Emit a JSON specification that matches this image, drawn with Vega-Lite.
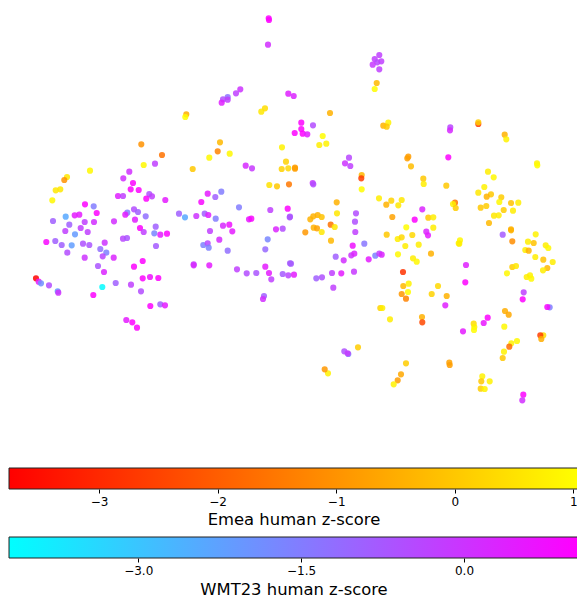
{"$schema":"https://vega.github.io/schema/vega-lite/v6.json","padding":{"left":8,"top":0,"right":0,"bottom":0},"background":"white","config":{"view":{"stroke":null},"font":"DejaVu Sans"},"bounds":"flush","spacing":48,
"datasets":{
"wmt23":[{"x":267.7,"y":18.3,"z":1},{"x":268,"y":20,"z":1},{"x":267,"y":44.7,"z":0.1},{"x":239.3,"y":89.3,"z":0},{"x":235,"y":93.3,"z":-0.25},{"x":226.7,"y":97,"z":-1.3},{"x":222,"y":99.3,"z":-0.6},{"x":226.7,"y":99.7,"z":-0.25},{"x":220.7,"y":102.7,"z":0.4},{"x":287.3,"y":93.7,"z":0.4},{"x":292.7,"y":96,"z":0.3},{"x":154,"y":163.7,"z":-0.25},{"x":128.3,"y":171.7,"z":0.1},{"x":122.3,"y":178.3,"z":0.1},{"x":132,"y":183,"z":1},{"x":129.7,"y":189.3,"z":1},{"x":137.7,"y":190,"z":1},{"x":117,"y":196,"z":0.4},{"x":122,"y":196,"z":-0.25},{"x":148.3,"y":194,"z":-0.6},{"x":151,"y":196.3,"z":-0.25},{"x":145.3,"y":198.7,"z":1},{"x":164.3,"y":200,"z":0.5},{"x":84,"y":204.3,"z":1},{"x":92.7,"y":206.3,"z":-1.5},{"x":95.7,"y":213,"z":1},{"x":78.3,"y":214.7,"z":0.5},{"x":73.7,"y":215.3,"z":0.5},{"x":64.7,"y":216.7,"z":-2.4},{"x":52,"y":221,"z":-0.9},{"x":68.3,"y":224.7,"z":-0.9},{"x":83.7,"y":222,"z":-0.25},{"x":93,"y":222,"z":0.1},{"x":79.7,"y":228,"z":-0.25},{"x":64.3,"y":231,"z":-0.25},{"x":113,"y":221.3,"z":0.1},{"x":126.3,"y":212.7,"z":-1.5},{"x":124.3,"y":214.7,"z":0.5},{"x":133,"y":209.3,"z":-0.5},{"x":137,"y":212,"z":-0.9},{"x":144.7,"y":216.3,"z":-1.2},{"x":134,"y":219.7,"z":0.4},{"x":139,"y":228,"z":1},{"x":154.7,"y":226.7,"z":-0.9},{"x":178,"y":213.7,"z":-0.9},{"x":184,"y":217.3,"z":-2.4},{"x":195.3,"y":216,"z":0},{"x":203.7,"y":213.7,"z":-0.9},{"x":207.3,"y":215,"z":0.4},{"x":214.7,"y":218.7,"z":-1.5},{"x":222,"y":225.7,"z":0.2},{"x":228.3,"y":224.7,"z":0.7},{"x":231.3,"y":231.3,"z":0.5},{"x":209,"y":231,"z":-0.25},{"x":200.3,"y":202,"z":0.9},{"x":206.7,"y":193.7,"z":0.5},{"x":214.3,"y":197,"z":-0.9},{"x":220.3,"y":191.7,"z":-1.5},{"x":238,"y":207.3,"z":-1.5},{"x":244.7,"y":165.7,"z":0.2},{"x":251,"y":168.3,"z":-0.1},{"x":269.3,"y":210,"z":-0.25},{"x":286.7,"y":208.7,"z":1},{"x":288.7,"y":217.3,"z":-0.6},{"x":248,"y":219.3,"z":0.5},{"x":250.3,"y":218.7,"z":0.9},{"x":275,"y":229.3,"z":0.3},{"x":281.7,"y":228.7,"z":-0.5},{"x":74,"y":234.3,"z":-2.1},{"x":86.7,"y":232,"z":-0.25},{"x":45.3,"y":242,"z":0.9},{"x":54.3,"y":241,"z":-0.9},{"x":60.7,"y":245,"z":-0.9},{"x":70.7,"y":245.3,"z":-2.2},{"x":82,"y":243.7,"z":-0.6},{"x":88.3,"y":245,"z":-0.7},{"x":66.3,"y":252.7,"z":-0.5},{"x":83.7,"y":257.7,"z":0},{"x":103.7,"y":242.7,"z":0},{"x":99.3,"y":249,"z":-1.2},{"x":105.3,"y":252.7,"z":-1.6},{"x":101.7,"y":256.3,"z":-0.4},{"x":112.7,"y":257.7,"z":0.3},{"x":97,"y":266,"z":-0.7},{"x":103,"y":272,"z":0.3},{"x":122,"y":238.7,"z":-0.4},{"x":126,"y":238,"z":-0.7},{"x":142.7,"y":232,"z":-0.25},{"x":153.3,"y":233.3,"z":-1.7},{"x":159.3,"y":234.7,"z":0.5},{"x":166,"y":233.7,"z":1},{"x":155,"y":246,"z":-0.8},{"x":133,"y":266.7,"z":1},{"x":141.7,"y":261,"z":1},{"x":37.7,"y":281.7,"z":0.5},{"x":40,"y":283.3,"z":-1.9},{"x":48,"y":285.3,"z":-0.5},{"x":56.7,"y":291.3,"z":-2.3},{"x":57.3,"y":292.7,"z":0.1},{"x":101.3,"y":287,"z":-4.1},{"x":92.3,"y":295,"z":1},{"x":114.7,"y":283,"z":-0.9},{"x":130,"y":284.7,"z":-0.25},{"x":141.7,"y":278.3,"z":1},{"x":149,"y":277,"z":0.7},{"x":157.3,"y":278,"z":1},{"x":140,"y":291.3,"z":-0.5},{"x":149.3,"y":306,"z":1},{"x":159.3,"y":304.3,"z":-0.9},{"x":164,"y":305.3,"z":0.5},{"x":125.3,"y":320,"z":0.5},{"x":131.3,"y":322.3,"z":1},{"x":136,"y":327.7,"z":1},{"x":202.3,"y":245,"z":-1.6},{"x":206.7,"y":243.3,"z":-0.4},{"x":207.7,"y":247.7,"z":-1.6},{"x":218.3,"y":239.7,"z":0.2},{"x":226.7,"y":250.7,"z":-1.2},{"x":192.7,"y":264.3,"z":-0.1},{"x":192.7,"y":265.3,"z":0.2},{"x":208.3,"y":265.3,"z":0.5},{"x":236,"y":269.3,"z":-0.25},{"x":245.7,"y":273.3,"z":-0.5},{"x":255.3,"y":273,"z":-0.7},{"x":264.3,"y":266.7,"z":0.5},{"x":268,"y":273,"z":0.5},{"x":270.3,"y":279.3,"z":-0.25},{"x":281.7,"y":274,"z":-0.8},{"x":287.3,"y":275.3,"z":-0.4},{"x":289,"y":263.3,"z":-0.8},{"x":266.7,"y":239.3,"z":-1.7},{"x":264.3,"y":249.3,"z":-1.1},{"x":263,"y":296,"z":-0.9},{"x":262,"y":299,"z":0.1},{"x":378.3,"y":55,"z":-0.25},{"x":373.7,"y":59,"z":-0.25},{"x":376.3,"y":62.3,"z":-0.4},{"x":380.3,"y":61.3,"z":-0.25},{"x":371.7,"y":64.7,"z":-0.1},{"x":378.3,"y":69.3,"z":-0.25},{"x":449.3,"y":127.3,"z":-0.4},{"x":449,"y":130.3,"z":0.2},{"x":300.3,"y":122.7,"z":1},{"x":300.3,"y":129,"z":1},{"x":293.7,"y":133,"z":1},{"x":301.7,"y":133.7,"z":1},{"x":306.3,"y":134.3,"z":0.4},{"x":312,"y":125.3,"z":-0.5},{"x":348,"y":157.7,"z":-0.4},{"x":344,"y":163.3,"z":0},{"x":349.3,"y":166,"z":-0.25},{"x":447.3,"y":157.3,"z":1},{"x":311.7,"y":183,"z":-0.1},{"x":312.3,"y":184.3,"z":-0.5},{"x":355,"y":213.3,"z":-0.5},{"x":354,"y":221.7,"z":-0.6},{"x":421.3,"y":209.3,"z":0.3},{"x":413.7,"y":219.7,"z":1},{"x":425.3,"y":231.7,"z":0.3},{"x":289,"y":216.7,"z":-0.7},{"x":354.3,"y":232,"z":-0.25},{"x":351.7,"y":245.7,"z":0.7},{"x":363.3,"y":243.7,"z":-1.4},{"x":334.7,"y":256.7,"z":-0.9},{"x":342.7,"y":260.3,"z":0.1},{"x":350.3,"y":255.3,"z":0},{"x":353.3,"y":253.7,"z":0.3},{"x":367.7,"y":259.3,"z":0.5},{"x":374.3,"y":255.7,"z":-1.6},{"x":378.3,"y":253.7,"z":-0.25},{"x":380.7,"y":254.7,"z":0.3},{"x":427,"y":235.3,"z":0.5},{"x":501.7,"y":234.7,"z":-0.8},{"x":465,"y":265,"z":0.4},{"x":464.3,"y":282.3,"z":1},{"x":522.7,"y":292.3,"z":-0.25},{"x":521.7,"y":299.3,"z":1},{"x":548.7,"y":307.3,"z":-1.6},{"x":546.3,"y":307,"z":0.9},{"x":444.3,"y":305.3,"z":0.4},{"x":486.7,"y":317.7,"z":1},{"x":482.7,"y":323,"z":0.6},{"x":462,"y":331.3,"z":0.5},{"x":290,"y":263.7,"z":-0.8},{"x":293,"y":274.7,"z":0.5},{"x":315.3,"y":278.3,"z":-0.9},{"x":321,"y":277.3,"z":-0.6},{"x":331,"y":273,"z":-0.25},{"x":340.3,"y":273.3,"z":0.5},{"x":353,"y":271.7,"z":-0.1},{"x":332.3,"y":287.7,"z":-0.25},{"x":347.3,"y":354,"z":-1.6},{"x":343.3,"y":351.3,"z":-0.6},{"x":346.7,"y":353.3,"z":-0.1},{"x":522.3,"y":394.7,"z":1},{"x":521.3,"y":400.3,"z":0.1}],
"emea":[{"x":185.3,"y":114.3,"z":-0.5},{"x":184.3,"y":117,"z":1},{"x":264,"y":108.3,"z":0.4},{"x":260.3,"y":111.7,"z":0.6},{"x":219,"y":142.3,"z":-0.3},{"x":216.7,"y":151.3,"z":-1.3},{"x":208.3,"y":157.7,"z":0.9},{"x":228.7,"y":153.7,"z":0.9},{"x":140.3,"y":144.3,"z":-1},{"x":161,"y":155,"z":-1.6},{"x":142.7,"y":165,"z":0.9},{"x":89,"y":170.7,"z":0.9},{"x":66,"y":177,"z":0.6},{"x":63.3,"y":180,"z":-1},{"x":59.3,"y":189.3,"z":0.6},{"x":54.7,"y":190.3,"z":0.6},{"x":51.3,"y":200.3,"z":0.9},{"x":191.7,"y":169,"z":0},{"x":281,"y":147.3,"z":0.8},{"x":285,"y":161.7,"z":0.2},{"x":280.7,"y":169,"z":0.2},{"x":287.3,"y":168.3,"z":0.3},{"x":268.3,"y":185,"z":0.5},{"x":276,"y":186.3,"z":0},{"x":288,"y":184.3,"z":-1.5},{"x":35,"y":278.3,"z":-3.7},{"x":375.7,"y":83,"z":-0.3},{"x":373.7,"y":89,"z":1},{"x":329,"y":113,"z":-0.4},{"x":387.3,"y":122.7,"z":0.8},{"x":382.3,"y":125.7,"z":-0.4},{"x":385.7,"y":126.7,"z":0},{"x":477.3,"y":124,"z":-2.7},{"x":477.3,"y":122.3,"z":0.1},{"x":503.7,"y":134.7,"z":-0.4},{"x":505.3,"y":139.3,"z":0.8},{"x":321.7,"y":136,"z":1},{"x":318.3,"y":145,"z":0.7},{"x":325.3,"y":143.7,"z":0.8},{"x":294,"y":167.7,"z":-0.8},{"x":294,"y":168.7,"z":-0.8},{"x":407.3,"y":156.7,"z":-0.8},{"x":406.3,"y":158.3,"z":-0.8},{"x":410,"y":166.3,"z":-0.2},{"x":536,"y":163.3,"z":0.8},{"x":536.3,"y":165.3,"z":1},{"x":360.7,"y":175,"z":-0.3},{"x":360.3,"y":178.3,"z":-2.6},{"x":360.7,"y":189.3,"z":1},{"x":422.3,"y":178.7,"z":0},{"x":422.7,"y":184,"z":0.7},{"x":445.3,"y":185.7,"z":0},{"x":487,"y":171.7,"z":0.7},{"x":492.7,"y":177.3,"z":0.9},{"x":483.3,"y":187,"z":0.8},{"x":477.3,"y":192.7,"z":0.6},{"x":490,"y":194.3,"z":0},{"x":485.7,"y":196.7,"z":-0.4},{"x":500.3,"y":197.3,"z":0.1},{"x":498.3,"y":202,"z":0.9},{"x":510,"y":203,"z":-0.1},{"x":517.3,"y":202.7,"z":0.7},{"x":485.3,"y":206,"z":0.1},{"x":479.7,"y":207.7,"z":0},{"x":502.7,"y":210,"z":0.1},{"x":512,"y":210.7,"z":0.7},{"x":493,"y":215.7,"z":0.6},{"x":497.7,"y":215.3,"z":0.7},{"x":488,"y":223,"z":-0.3},{"x":510,"y":229.3,"z":-0.4},{"x":454,"y":202.7,"z":-1.5},{"x":452,"y":204,"z":0.8},{"x":454.7,"y":208,"z":0.1},{"x":378,"y":198.3,"z":0.7},{"x":390.3,"y":200.7,"z":0.2},{"x":385.3,"y":204.7,"z":-0.4},{"x":400.7,"y":200,"z":0.6},{"x":397.3,"y":205.3,"z":0.6},{"x":335.7,"y":202.3,"z":-0.4},{"x":336,"y":213.3,"z":0.6},{"x":391.3,"y":217,"z":-0.7},{"x":427.3,"y":217.7,"z":0},{"x":432.3,"y":217.3,"z":0.7},{"x":405.3,"y":227.3,"z":1},{"x":432.3,"y":227.7,"z":0.7},{"x":309.3,"y":219.3,"z":-0.4},{"x":312.3,"y":216.3,"z":-0.4},{"x":316.7,"y":215,"z":-0.4},{"x":320.7,"y":217,"z":-0.1},{"x":329.7,"y":224.7,"z":-1.6},{"x":333.7,"y":227,"z":0.6},{"x":312.7,"y":227.7,"z":-0.4},{"x":316,"y":228.3,"z":-0.7},{"x":304.3,"y":232.3,"z":-0.9},{"x":320.7,"y":232,"z":0.6},{"x":330,"y":240.7,"z":-0.3},{"x":385.7,"y":234.7,"z":0},{"x":396.7,"y":239,"z":0.7},{"x":400.7,"y":237.3,"z":0.3},{"x":411.3,"y":235,"z":0.3},{"x":404.3,"y":246,"z":0.7},{"x":417.7,"y":244.7,"z":0.7},{"x":397,"y":254.3,"z":0.9},{"x":412,"y":258.3,"z":0.7},{"x":415.7,"y":261.7,"z":0.9},{"x":430,"y":253.7,"z":-0.4},{"x":459,"y":240.3,"z":0.9},{"x":457.7,"y":243.3,"z":0.9},{"x":458.3,"y":243.7,"z":0.7},{"x":510,"y":230.3,"z":-0.4},{"x":511.3,"y":241.3,"z":-1.1},{"x":534.7,"y":234.3,"z":0.8},{"x":527,"y":241.7,"z":0.7},{"x":532.7,"y":243,"z":-0.1},{"x":544.7,"y":245.3,"z":0.7},{"x":547.3,"y":248,"z":0.9},{"x":524.3,"y":250,"z":0.7},{"x":527.7,"y":250.7,"z":-0.4},{"x":534.3,"y":257,"z":0.7},{"x":542.3,"y":259.7,"z":-0.1},{"x":551.7,"y":262,"z":0.7},{"x":511.3,"y":267,"z":0.1},{"x":515,"y":266,"z":0.6},{"x":546.3,"y":268,"z":-0.3},{"x":542,"y":270.3,"z":0.7},{"x":506,"y":273.3,"z":0.9},{"x":529,"y":275.3,"z":0.8},{"x":525.7,"y":277,"z":0.7},{"x":530.3,"y":278.7,"z":0.9},{"x":402,"y":272,"z":-2.8},{"x":402.3,"y":286,"z":-0.3},{"x":407.7,"y":283.7,"z":0.8},{"x":407,"y":292,"z":1},{"x":400.7,"y":294,"z":-0.9},{"x":405,"y":298.7,"z":-1.3},{"x":437,"y":286,"z":0.3},{"x":430.7,"y":294,"z":0.2},{"x":445.7,"y":296,"z":-0.4},{"x":379.3,"y":308,"z":0.2},{"x":381.3,"y":308,"z":0.7},{"x":389,"y":319.3,"z":0.7},{"x":421,"y":317,"z":-0.4},{"x":421.3,"y":322.3,"z":-2.4},{"x":504,"y":311,"z":-0.5},{"x":507.7,"y":314.7,"z":-0.6},{"x":503.3,"y":326.7,"z":0.9},{"x":472.7,"y":323.7,"z":0.4},{"x":473.3,"y":327,"z":0.8},{"x":473,"y":330,"z":1},{"x":542.3,"y":335.3,"z":0.4},{"x":539.3,"y":335.3,"z":-2.6},{"x":540.3,"y":339,"z":-0.5},{"x":516,"y":341,"z":0.9},{"x":510.3,"y":343.3,"z":0.8},{"x":508.3,"y":346.7,"z":-1.7},{"x":503,"y":351.7,"z":0.8},{"x":501.7,"y":358,"z":0},{"x":357,"y":347.3,"z":0.1},{"x":405,"y":363.3,"z":0.1},{"x":400,"y":374.3,"z":-0.6},{"x":396.7,"y":380.3,"z":-0.8},{"x":392.7,"y":384.3,"z":0.8},{"x":327,"y":373.3,"z":0.8},{"x":323.7,"y":369.3,"z":-0.9},{"x":448.3,"y":362.7,"z":-0.7},{"x":448.7,"y":365,"z":-0.8},{"x":481.3,"y":376.3,"z":0.8},{"x":480.3,"y":381.3,"z":0},{"x":488.7,"y":381.3,"z":0.8},{"x":479.7,"y":388.7,"z":0.1},{"x":483.7,"y":389,"z":0.8}]
},
"vconcat":[
{"width":569,"height":420,"resolve":{"scale":{"color":"independent"}},
"encoding":{"x":{"field":"x","type":"quantitative","scale":{"domain":[8,577]},"axis":null},"y":{"field":"y","type":"quantitative","scale":{"domain":[420,0]},"axis":null}},
"layer":[
{"data":{"name":"emea"},"mark":{"type":"circle","size":38,"opacity":0.85},"encoding":{"color":{"field":"z","type":"quantitative","legend":null,"scale":{"domain":[-3.75,1.04],"range":["#ff0000","#ffff00"],"interpolate":"rgb"}}}},
{"data":{"name":"wmt23"},"mark":{"type":"circle","size":38,"opacity":0.85},"encoding":{"color":{"field":"z","type":"quantitative","legend":null,"scale":{"domain":[-4.18,1.05],"range":["#00ffff","#ff00ff"],"interpolate":"rgb"}}}}
]},
{"width":569,"height":21,"data":{"values":[{"from":-3.76,"to":1.04}]},
"mark":{"type":"rect","stroke":"#000000","strokeWidth":1,"color":{"gradient":"linear","x1":0,"y1":0,"x2":1,"y2":0,"stops":[{"offset":0,"color":"#ff0000"},{"offset":1,"color":"#ffff00"}]},"stroke":"#222222"},
"encoding":{"x":{"field":"from","type":"quantitative","scale":{"domain":[-3.76,1.04]},"axis":{"values":[-3,-2,-1,0,1],"format":"d","title":"Emea human z-score","titleFontSize":16.4,"titleFontWeight":"normal","titleColor":"#000000","titlePadding":4,"labelFontSize":12,"labelColor":"#000000","labelPadding":3,"tickColor":"#000000","tickSize":4,"domain":false,"grid":false,"labelFlush":false}},"x2":{"field":"to"}}},
{"width":569,"height":21,"data":{"values":[{"from":-4.19,"to":1.05}]},
"mark":{"type":"rect","stroke":"#222222","strokeWidth":1,"color":{"gradient":"linear","x1":0,"y1":0,"x2":1,"y2":0,"stops":[{"offset":0,"color":"#00ffff"},{"offset":1,"color":"#ff00ff"}]}},
"encoding":{"x":{"field":"from","type":"quantitative","scale":{"domain":[-4.19,1.05]},"axis":{"values":[-3,-1.5,0],"format":".1f","title":"WMT23 human z-score","titleFontSize":16.4,"titleFontWeight":"normal","titleColor":"#000000","titlePadding":5,"labelFontSize":12,"labelColor":"#000000","labelPadding":3,"tickColor":"#000000","tickSize":4,"domain":false,"grid":false,"labelFlush":false}},"x2":{"field":"to"}}}
]}
